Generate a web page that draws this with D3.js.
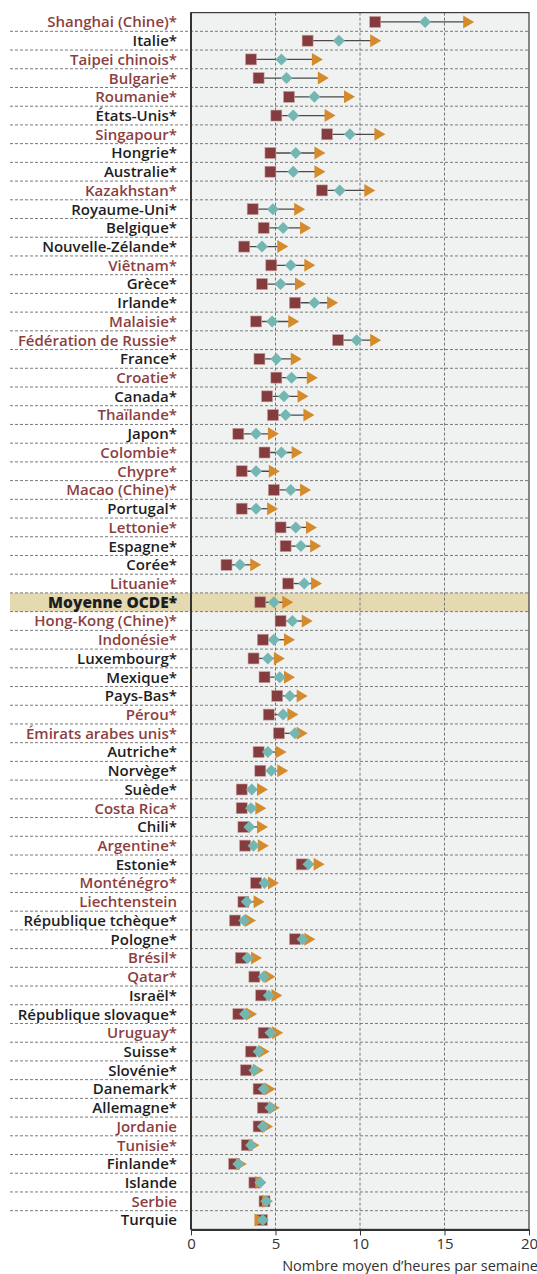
<!DOCTYPE html>
<html>
<head>
<meta charset="utf-8">
<script src="https://cdn.jsdelivr.net/npm/d3@7"></script>
<style>
  body { margin: 0; background: #fff; }
  svg { display: block; font-family: "Open Sans", "Lato", sans-serif; }
</style>
</head>
<body>
<svg id="chart" width="537" height="1274"></svg>
<script>

// countries, top to bottom
var countries = ["Shanghai (Chine)*", "Italie*", "Taipei chinois*", "Bulgarie*", "Roumanie*",
	"États-Unis*", "Singapour*", "Hongrie*", "Australie*", "Kazakhstan*", "Royaume-Uni*",
	"Belgique*", "Nouvelle-Zélande*", "Viêtnam*", "Grèce*", "Irlande*", "Malaisie*",
	"Fédération de Russie*", "France*", "Croatie*", "Canada*", "Thaïlande*", "Japon*",
	"Colombie*", "Chypre*", "Macao (Chine)*", "Portugal*", "Lettonie*", "Espagne*", "Corée*",
	"Lituanie*", "Moyenne OCDE*", "Hong-Kong (Chine)*", "Indonésie*", "Luxembourg*",
	"Mexique*", "Pays-Bas*", "Pérou*", "Émirats arabes unis*", "Autriche*", "Norvège*",
	"Suède*", "Costa Rica*", "Chili*", "Argentine*", "Estonie*", "Monténégro*",
	"Liechtenstein", "République tchèque*", "Pologne*", "Brésil*", "Qatar*", "Israël*",
	"République slovaque*", "Uruguay*", "Suisse*", "Slovénie*", "Danemark*", "Allemagne*",
	"Jordanie", "Tunisie*", "Finlande*", "Islande", "Serbie", "Turquie"];

// partner countries (labels in red)
var partners = ["Shanghai (Chine)*", "Taipei chinois*", "Bulgarie*", "Roumanie*", "Singapour*",
	"Kazakhstan*", "Viêtnam*", "Malaisie*", "Fédération de Russie*", "Croatie*", "Thaïlande*",
	"Colombie*", "Chypre*", "Macao (Chine)*", "Lettonie*", "Lituanie*", "Hong-Kong (Chine)*",
	"Indonésie*", "Pérou*", "Émirats arabes unis*", "Costa Rica*", "Argentine*", "Monténégro*",
	"Liechtenstein", "Brésil*", "Qatar*", "Uruguay*", "Jordanie", "Tunisie*", "Serbie"];

// hours per week: bottom quarter (square)
var bottomQuarter = [10.9, 6.9, 3.55, 4.0, 5.8, 5.05, 8.05, 4.7, 4.7, 7.75, 3.65, 4.3, 3.15,
	4.75, 4.2, 6.15, 3.85, 8.7, 4.05, 5.05, 4.5, 4.85, 2.8, 4.35, 3.0, 4.9, 3.0, 5.3, 5.6, 2.1,
	5.75, 4.1, 5.3, 4.25, 3.7, 4.35, 5.1, 4.6, 5.2, 4.0, 4.1, 3.0, 3.0, 3.1, 3.2, 6.55, 3.85,
	3.1, 2.6, 6.15, 2.95, 3.75, 4.15, 2.8, 4.3, 3.55, 3.25, 4.0, 4.25, 4.0, 3.3, 2.55, 3.75,
	4.35, 4.2];

// average (diamond)
var average = [13.85, 8.75, 5.35, 5.65, 7.3, 6.05, 9.4, 6.2, 6.05, 8.8, 4.85, 5.45, 4.2,
	5.9, 5.3, 7.3, 4.8, 9.8, 5.05, 5.95, 5.5, 5.6, 3.85, 5.35, 3.85, 5.9, 3.85, 6.2, 6.5, 2.9,
	6.7, 4.9, 6.0, 4.9, 4.55, 5.25, 5.85, 5.45, 6.15, 4.55, 4.75, 3.6, 3.55, 3.45, 3.7, 6.95,
	4.35, 3.3, 3.15, 6.6, 3.35, 4.3, 4.6, 3.2, 4.7, 4.0, 3.75, 4.3, 4.7, 4.25, 3.55, 2.8, 4.1,
	4.45, 4.25];

// top quarter (triangle)
var topQuarter = [16.4, 10.9, 7.45, 7.8, 9.35, 8.2, 11.15, 7.6, 7.6, 10.55, 6.4, 6.75, 5.4,
	7.0, 6.45, 8.35, 6.05, 10.9, 6.2, 7.15, 6.6, 6.95, 4.85, 6.25, 4.9, 6.75, 4.8, 7.1, 7.35,
	3.8, 7.4, 5.7, 6.85, 5.8, 5.2, 5.8, 6.55, 6.0, 6.55, 5.3, 5.4, 4.2, 4.1, 4.2, 4.25, 7.55,
	4.85, 4.0, 3.5, 7.0, 3.85, 4.65, 5.05, 3.55, 5.1, 4.3, 3.95, 4.65, 4.9, 4.5, 3.7, 2.95,
	4.1, 4.5, 4.05];

var xTicks = [0, 5, 10, 15, 20];
var xTitle = "Nombre moyen d’heures par semaine";

var rows = countries.map(function(c, i) {
	return {name: c, lo: bottomQuarter[i], avg: average[i], hi: topQuarter[i]};
});

var svg = d3.select("#chart");

var plot = {left: 191, right: 529, top: 12.6, bottom: 1229.4};
var labelLeft = 10;

var x = d3.scaleLinear()
		.domain([0, 20])
		.range([plot.left, plot.right]);

var y = d3.scaleBand()
		.domain(countries)
		.range([plot.top, plot.bottom])
		.padding(0);

var bw = y.bandwidth();

// plot background
svg.append("rect")
	.attr("x", plot.left)
	.attr("y", plot.top)
	.attr("width", plot.right - plot.left)
	.attr("height", plot.bottom - plot.top)
	.attr("fill", "#f0f2f1");

// OECD average highlight
svg.append("rect")
	.attr("x", labelLeft)
	.attr("y", y("Moyenne OCDE*"))
	.attr("width", plot.right - labelLeft)
	.attr("height", bw)
	.attr("fill", "#e5d9b2");

// row separators
svg.append("g")
	.selectAll("line")
	.data(countries.slice(1))
	.enter().append("line")
	.attr("x1", labelLeft)
	.attr("x2", plot.right)
	.attr("y1", function(d) { return y(d); })
	.attr("y2", function(d) { return y(d); })
	.attr("stroke", "#7a7a7a")
	.attr("stroke-width", 1)
	.attr("stroke-dasharray", "3,2");

// vertical grid
svg.append("g")
	.selectAll("line")
	.data(xTicks.slice(1, -1))
	.enter().append("line")
	.attr("x1", x)
	.attr("x2", x)
	.attr("y1", plot.top)
	.attr("y2", plot.bottom)
	.attr("stroke", "#777")
	.attr("stroke-width", 1)
	.attr("stroke-dasharray", "3,2");

// frame
svg.append("rect")
	.attr("x", plot.left)
	.attr("y", plot.top)
	.attr("width", plot.right - plot.left)
	.attr("height", plot.bottom - plot.top)
	.attr("fill", "none")
	.attr("stroke", "#3a3a3a")
	.attr("stroke-width", 1.2);

svg.append("line")
	.attr("x1", plot.left).attr("x2", plot.left)
	.attr("y1", plot.top).attr("y2", plot.bottom)
	.attr("stroke", "#333").attr("stroke-width", 2);

// x axis
var xAxis = svg.append("g")
	.attr("transform", "translate(0," + plot.bottom + ")")
	.call(d3.axisBottom(x).tickValues(xTicks).tickSize(6).tickSizeOuter(0));

xAxis.select(".domain").attr("stroke", "#333").attr("stroke-width", 2);
xAxis.selectAll(".tick line").attr("stroke", "#333");
xAxis.selectAll(".tick text")
	.attr("font-size", 15)
	.attr("fill", "#333")
	.attr("font-family", "Open Sans, sans-serif")
	.attr("y", 7)
	.attr("dy", "0.85em");

svg.append("text")
	.attr("x", 538)
	.attr("y", 1271)
	.attr("text-anchor", "end")
	.attr("font-size", 14.5)
	.attr("fill", "#333")
	.text(xTitle);

// labels
svg.append("g")
	.selectAll("text")
	.data(rows)
	.enter().append("text")
	.attr("x", 177)
	.attr("y", function(d) { return y(d.name) + bw / 2; })
	.attr("dy", "0.36em")
	.attr("text-anchor", "end")
	.attr("font-size", function(d) { return d.name == "Moyenne OCDE*" ? 15.5 : 15; })
	.attr("font-weight", function(d) { return d.name == "Moyenne OCDE*" ? 800 : 600; })
	.attr("fill", function(d) {
		return partners.indexOf(d.name) >= 0 ? "#8c3f3f" : "#1e1e1e"; })
	.text(function(d) { return d.name; });

// marks
var marks = svg.append("g")
	.selectAll("g")
	.data(rows)
	.enter().append("g")
	.attr("transform", function(d) {
		return "translate(0," + (y(d.name) + bw / 2) + ")"; });

marks.append("line")
	.attr("x1", function(d) { return x(d.lo); })
	.attr("x2", function(d) { return x(d.hi); })
	.attr("stroke", "#4a4a4a")
	.attr("stroke-width", 1.3);

marks.append("rect")
	.attr("x", function(d) { return x(d.lo) - 5.5; })
	.attr("y", -5.5)
	.attr("width", 11)
	.attr("height", 11)
	.attr("fill", "#843c3e")
	.attr("stroke", "#c9a3a3")
	.attr("stroke-width", 0.6);

marks.append("path")
	.attr("d", "M-5,-6.5L6,0L-5,6.5Z")
	.attr("transform", function(d) { return "translate(" + x(d.hi) + ",0)"; })
	.attr("fill", "#d58b2b");

marks.append("path")
	.attr("d", "M0,-6L6,0L0,6L-6,0Z")
	.attr("transform", function(d) { return "translate(" + x(d.avg) + ",0)"; })
	.attr("fill", "#73b6b2");

</script>
</body>
</html>
